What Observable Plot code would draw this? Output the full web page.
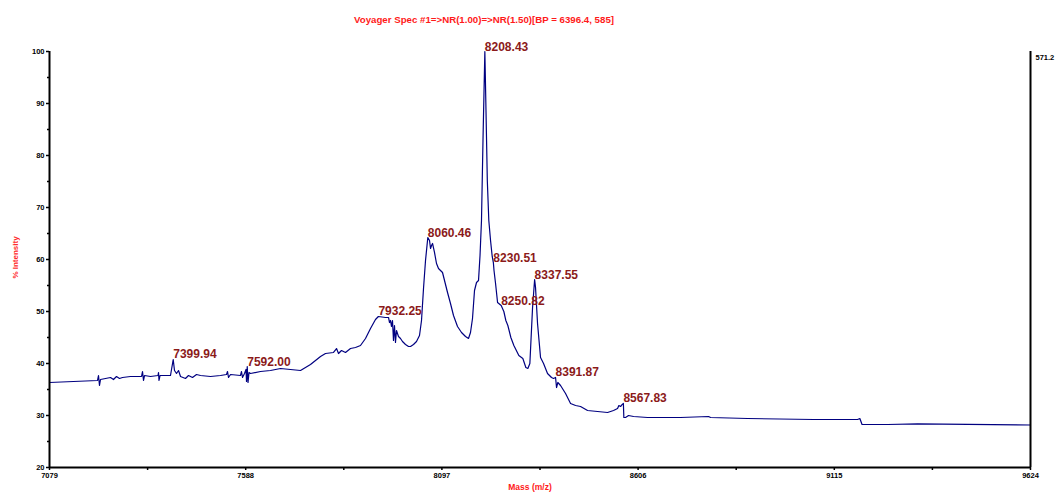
<!DOCTYPE html>
<html>
<head>
<meta charset="utf-8">
<script src="https://cdn.jsdelivr.net/npm/d3@7"></script>
<script src="https://cdn.jsdelivr.net/npm/@observablehq/plot@0.6"></script>
<style>
  html, body { margin: 0; padding: 0; background: #fff; }
  #chart svg { display: block; overflow: visible; }
</style>
</head>
<body>
<div id="chart"></div>
<script>
const title = "Voyager Spec #1=>NR(1.00)=>NR(1.50)[BP = 6396.4, 585]";
const xLabel = "Mass (m/z)";
const yLabel = "% Intensity";
const rightLabel = "571.2";

const xTicks = [7079, 7588, 8097, 8606, 9115, 9624];
const xMinorTicks = [7333.5, 7842.5, 8351.5, 8860.5, 9369.5];
const yTicks = [20, 30, 40, 50, 60, 70, 80, 90, 100];
const yMinorTicks = [25, 35, 45, 55, 65, 75, 85, 95];

const mass = [
  7079, 7203.5, 7206.1, 7208.7, 7211.3, 7224.3, 7237.3, 7245.0, 7252.8, 7260.6,
  7268.4, 7289.1, 7317.7, 7320.3, 7322.9, 7325.5, 7341.0, 7360.5, 7361.8, 7363.1,
  7365.7, 7392.9, 7399.94, 7403.3, 7408.5, 7413.7, 7418.9, 7431.8, 7439.6, 7450.0,
  7460.4, 7470.7, 7496.7, 7522.6, 7538.2, 7540.8, 7543.4, 7548.6, 7574.5, 7577.1,
  7579.7, 7584.9, 7588.8, 7590.1, 7592.0, 7594.0, 7596.6, 7600.5, 7626.4, 7652.3,
  7678.3, 7704.2, 7730.2, 7756.1, 7782.1, 7795.0, 7815.8, 7823.6, 7828.8, 7836.5,
  7846.9, 7859.9, 7872.9, 7885.8, 7898.8, 7911.8, 7924.7, 7932.25, 7950.7, 7958.5,
  7961.1, 7963.7, 7966.2, 7968.8, 7971.4, 7974.0, 7976.6, 7979.2, 7984.4, 7989.6,
  7994.8, 8002.6, 8010.4, 8015.6, 8023.3, 8031.1, 8038.9, 8044.1, 8049.3, 8054.5,
  8060.46, 8064.9, 8067.5, 8070.1, 8072.7, 8077.8, 8083.0, 8088.2, 8093.4, 8098.6,
  8103.8, 8111.6, 8119.3, 8127.1, 8137.5, 8147.9, 8158.3, 8166.0, 8171.2, 8176.4,
  8181.6, 8186.8, 8192.0, 8195.9, 8199.7, 8203.6, 8208.43, 8211.4, 8214.8, 8218.7,
  8223.2, 8227.5, 8230.51, 8232.2, 8236.2, 8241.4, 8250.82, 8257.7, 8262.9, 8268.1,
  8275.9, 8283.7, 8296.6, 8307.0, 8314.8, 8320.0, 8325.2, 8332.2, 8337.55, 8339.9,
  8345.1, 8352.9, 8360.7, 8371.0, 8381.4, 8386.6, 8391.87, 8394.4, 8397.8, 8404.8,
  8417.8, 8430.8, 8443.8, 8456.7, 8474.9, 8500.8, 8526.8, 8542.3, 8552.7, 8556.1,
  8560.5, 8564.9, 8567.83, 8569.0, 8573.4, 8581.2, 8594.2, 8630.5, 8716.1, 8788.8,
  8794.0, 8890.0, 9061.2, 9175.4, 9181.3, 9187.0, 9253.2, 9331.0, 9624
];
const intensity = [
  36.35, 36.73, 37.69, 35.77, 36.92, 37.12, 37.31, 36.92, 37.5, 37.12,
  37.31, 37.5, 37.5, 38.46, 36.73, 37.69, 37.5, 37.69, 38.27, 36.73,
  37.69, 37.69, 40.77, 38.65, 38.08, 38.65, 37.5, 37.12, 37.69, 37.31,
  37.88, 37.69, 37.5, 37.69, 37.88, 38.46, 37.31, 37.88, 37.69, 38.46,
  37.31, 38.08, 38.85, 36.54, 39.42, 36.35, 38.27, 38.08, 38.46, 38.65,
  39.04, 38.85, 38.65, 39.81, 41.35, 41.92, 42.12, 42.88, 41.92, 42.5,
  42.12, 42.88, 43.08, 43.46, 44.81, 46.73, 48.46, 49.04, 48.85, 48.85,
  47.88, 48.27, 47.12, 48.27, 44.42, 47.31, 44.04, 46.35, 45.19, 44.81,
  44.23, 43.65, 43.27, 43.27, 43.65, 44.23, 45.38, 48.27, 54.42, 59.81,
  64.23, 63.65, 62.12, 62.69, 63.08, 61.35, 59.23, 58.27, 57.88, 57.5,
  55.96, 53.65, 51.54, 49.23, 47.12, 45.96, 45.19, 44.81, 45.96, 48.65,
  54.04, 55.58, 55.96, 60.77, 67.5, 82.88, 100, 88.65, 75.19, 67.5,
  63.65, 60.58, 59.42, 57.88, 55.38, 51.73, 51.15, 50.0, 48.27, 47.31,
  45.0, 43.46, 41.54, 40.96, 39.23, 39.04, 40.0, 50.77, 56.15, 54.62,
  47.69, 41.15, 40.0, 38.08, 37.31, 37.12, 37.31, 35.38, 36.35, 35.77,
  34.23, 32.31, 31.92, 31.73, 30.96, 30.77, 30.58, 30.96, 31.35, 31.92,
  31.73, 32.12, 32.31, 29.62, 29.62, 30.0, 29.81, 29.62, 29.62, 29.81,
  29.62, 29.42, 29.23, 29.23, 29.42, 28.27, 28.27, 28.40, 28.17
];

const peakMass = [7399.94, 7592.00, 7932.25, 8060.46, 8208.43, 8230.51, 8250.82, 8337.55, 8391.87, 8567.83];
const peakIntensity = [40.77, 39.42, 49.04, 64.23, 100, 59.42, 51.15, 56.15, 37.31, 32.31];
const peakLabel = ["7399.94", "7592.00", "7932.25", "8060.46", "8208.43", "8230.51", "8250.82", "8337.55", "8391.87", "8567.83"];

const idx = mass.map((_, i) => i);
const pidx = peakMass.map((_, i) => i);
const tickFont = {fontWeight: "bold", fontSize: 7.5, fill: "#000"};

const chart = Plot.plot({
  width: 1056,
  height: 492,
  marginLeft: 49,
  marginRight: 26,
  marginTop: 51,
  marginBottom: 25,
  style: {fontFamily: "'Liberation Sans', Arial, sans-serif", background: "#fff", color: "#000"},
  x: {domain: [7079, 9624]},
  y: {domain: [20, 100]},
  marks: [
    Plot.axisX(xTicks, {tickSize: 3, tickPadding: 2, strokeWidth: 1.5, label: null, tickFormat: d => String(d), ...tickFont}),
    Plot.axisX(xMinorTicks, {tickSize: 3, strokeWidth: 1.5, label: null, tickFormat: () => ""}),
    Plot.axisY(yTicks, {tickSize: 3, tickPadding: 2, strokeWidth: 1.5, label: null, tickFormat: d => String(d), ...tickFont}),
    Plot.axisY(yMinorTicks, {tickSize: 2, strokeWidth: 1.5, label: null, tickFormat: () => ""}),
    Plot.line(idx, {x: i => mass[i], y: i => intensity[i], stroke: "#000080", strokeWidth: 1.2}),
    Plot.ruleY([20], {stroke: "#000", strokeWidth: 2}),
    Plot.ruleX([7079], {stroke: "#000", strokeWidth: 2}),
    Plot.ruleX([9624], {stroke: "#000", strokeWidth: 2}),
    Plot.text(pidx, {
      x: i => peakMass[i], y: i => peakIntensity[i], text: i => peakLabel[i],
      textAnchor: "start", lineAnchor: "bottom", dy: -1,
      fill: "#8b1a1a", fontWeight: "bold", fontSize: 12
    }),
    Plot.text([title], {frameAnchor: "top", dx: -56, dy: -32, textAnchor: "middle", lineAnchor: "middle", fill: "#ff1a1a", fontWeight: "bold", fontSize: 9.7}),
    Plot.text([yLabel], {frameAnchor: "left", dx: -34.5, dy: -2, rotate: -90, textAnchor: "middle", lineAnchor: "middle", fill: "#ff2a2a", fontWeight: "bold", fontSize: 8}),
    Plot.text([xLabel], {frameAnchor: "bottom", dx: -10, dy: 20, textAnchor: "middle", lineAnchor: "middle", fill: "#ff1a1a", fontWeight: "bold", fontSize: 8.5}),
    Plot.text([rightLabel], {frameAnchor: "top-right", dx: 5, dy: 6, textAnchor: "start", lineAnchor: "middle", fill: "#000", fontWeight: "bold", fontSize: 7.5})
  ]
});
document.getElementById("chart").appendChild(chart);
</script>
</body>
</html>
